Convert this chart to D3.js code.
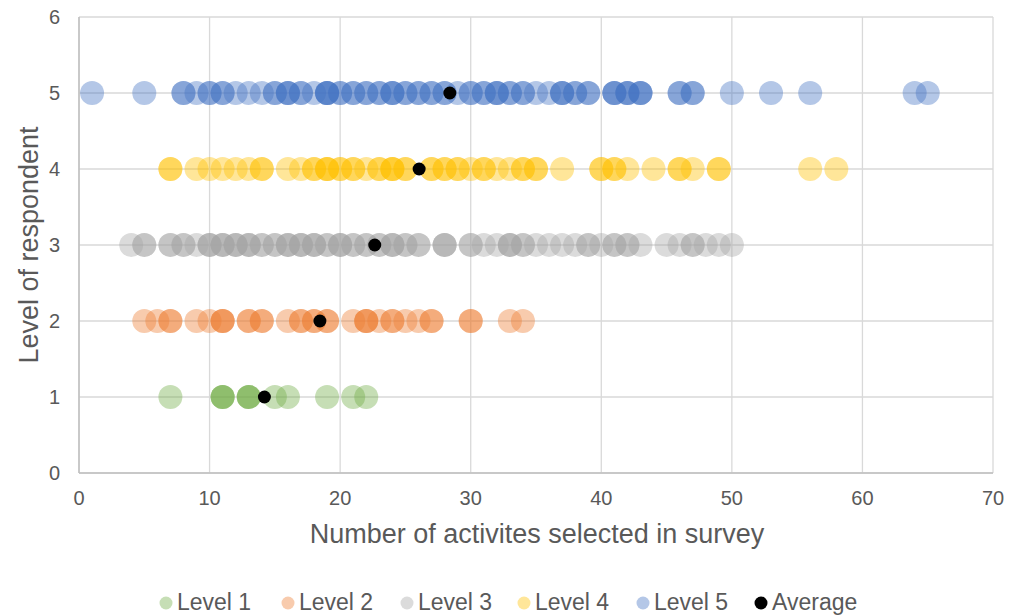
<!DOCTYPE html>
<html>
<head>
<meta charset="utf-8">
<script src="https://cdn.jsdelivr.net/npm/d3@7"></script>
<style>
  body { margin: 0; background: #fff; }
  text { font-family: "Liberation Sans", Arial, sans-serif; fill: #595959; }
</style>
</head>
<body>
<div class="scatter"></div>
<script>
// values, one entry per respondent
var level1 = [7, 11, 11, 11, 13, 13, 13, 15, 16, 19, 21, 22];
var level2 = [5, 6, 7, 7, 9, 10, 11, 11, 11, 13, 13, 14, 14, 16, 17, 17, 18, 18, 19, 19,
              21, 22, 22, 22, 23, 24, 24, 25, 26, 27, 27, 30, 30, 33, 34];
var level3 = [4, 5, 5, 7, 7, 8, 8, 9, 10, 10, 10, 11, 11, 11, 12, 12, 12, 13, 13, 13, 14,
              14, 15, 15, 16, 16, 16, 17, 17, 17, 18, 18, 18, 19, 19, 20, 20, 20, 21, 21,
              22, 22, 23, 23, 24, 24, 24, 25, 25, 26, 26, 28, 28, 28, 30, 30, 31, 32, 33,
              33, 33, 34, 34, 35, 36, 37, 38, 39, 39, 40, 41, 41, 42, 42, 43, 45, 46, 47,
              47, 48, 49, 50];
var level4 = [7, 7, 9, 10, 11, 12, 13, 14, 14, 16, 17, 18, 18, 19, 19, 19, 20, 20, 21, 21,
              22, 23, 23, 24, 24, 24, 25, 25, 27, 27, 28, 28, 29, 29, 30, 31, 31, 32, 33,
              34, 34, 35, 35, 37, 40, 40, 41, 41, 42, 44, 46, 46, 47, 49, 49, 56, 58];
var level5 = [1, 5, 8, 8, 9, 10, 10, 11, 11, 12, 13, 14, 15, 15, 16, 16, 16, 17, 17, 18,
              19, 19, 19, 19, 20, 20, 21, 21, 22, 22, 23, 23, 24, 24, 24, 25, 25, 26, 26,
              27, 27, 28, 28, 29, 30, 30, 31, 31, 32, 32, 32, 33, 33, 34, 34, 35, 36, 37,
              37, 37, 38, 38, 39, 39, 41, 41, 41, 42, 42, 42, 43, 43, 43, 46, 46, 47, 47,
              50, 53, 56, 64, 65];
var averages = [14.2, 18.45, 22.65, 26.05, 28.4];
var seriesNames = ["Level 1", "Level 2", "Level 3", "Level 4", "Level 5", "Average"];
var seriesColors = ["#70ad47", "#ed7d31", "#a5a5a5", "#ffc000", "#4472c4", "#000000"];
var xTicks = [0, 10, 20, 30, 40, 50, 60, 70];
var yTicks = [0, 1, 2, 3, 4, 5, 6];

var levels = [level1, level2, level3, level4, level5];

// set the dimensions and margins of the graph
var margin = {top: 17, right: 24, bottom: 143, left: 79},
    width = 1017 - margin.left - margin.right,
    height = 616 - margin.top - margin.bottom;

var svg = d3.select(".scatter")
  .append("svg")
  .attr("width", 1017)
  .attr("height", 616);

var plot = svg.append("g")
  .attr("transform", "translate(" + margin.left + "," + margin.top + ")");

var x = d3.scaleLinear().domain([0, 70]).range([0, width]);
var y = d3.scaleLinear().domain([0, 6]).range([height, 0]);

// gridlines
plot.selectAll("vgrid")
  .data(xTicks)
  .enter()
  .append("line")
  .attr("x1", function(d) { return x(d); })
  .attr("x2", function(d) { return x(d); })
  .attr("y1", 0)
  .attr("y2", height)
  .attr("stroke", "#d9d9d9")
  .attr("stroke-width", 1.3);

plot.selectAll("hgrid")
  .data(yTicks)
  .enter()
  .append("line")
  .attr("x1", 0)
  .attr("x2", width)
  .attr("y1", function(d) { return y(d); })
  .attr("y2", function(d) { return y(d); })
  .attr("stroke", "#d9d9d9")
  .attr("stroke-width", 1.3);

// axes lines
plot.append("line")
  .attr("x1", 0).attr("x2", 0).attr("y1", 0).attr("y2", height)
  .attr("stroke", "#bfbfbf").attr("stroke-width", 1.5);
plot.append("line")
  .attr("x1", 0).attr("x2", width).attr("y1", height).attr("y2", height)
  .attr("stroke", "#bfbfbf").attr("stroke-width", 1.5);

// tick labels
plot.selectAll("xlabel")
  .data(xTicks)
  .enter()
  .append("text")
  .attr("x", function(d) { return x(d); })
  .attr("y", height + 32)
  .attr("text-anchor", "middle")
  .attr("font-size", "20px")
  .text(function(d) { return d; });

plot.selectAll("ylabel")
  .data(yTicks)
  .enter()
  .append("text")
  .attr("x", -19)
  .attr("y", function(d) { return y(d) + 7; })
  .attr("text-anchor", "end")
  .attr("font-size", "20px")
  .text(function(d) { return d; });

// axis titles
svg.append("text")
  .attr("x", 537)
  .attr("y", 543)
  .attr("text-anchor", "middle")
  .attr("font-size", "27px")
  .text("Number of activites selected in survey");

svg.append("text")
  .attr("transform", "translate(38,245) rotate(-90)")
  .attr("text-anchor", "middle")
  .attr("font-size", "27px")
  .text("Level of respondent");

// points
levels.forEach(function(vals, i) {
  plot.selectAll(".pt" + i)
    .data(vals)
    .enter()
    .append("circle")
    .attr("cx", function(d) { return x(d); })
    .attr("cy", y(i + 1))
    .attr("r", 12)
    .style("fill", seriesColors[i])
    .style("fill-opacity", 0.4);
});

plot.selectAll(".avg")
  .data(averages)
  .enter()
  .append("circle")
  .attr("cx", function(d) { return x(d); })
  .attr("cy", function(d, i) { return y(i + 1); })
  .attr("r", 6.5)
  .style("fill", "#000");

// legend
var legendX = [166, 288, 407, 524, 643, 761];
var legend = svg.selectAll("legend")
  .data(seriesNames)
  .enter()
  .append("g")
  .attr("transform", function(d, i) { return "translate(" + legendX[i] + ",603)"; });

legend.append("circle")
  .attr("r", 6.5)
  .style("fill", function(d, i) { return seriesColors[i]; })
  .style("fill-opacity", function(d, i) { return i < 5 ? 0.4 : 1; });

legend.append("text")
  .attr("x", 11)
  .attr("y", 7)
  .attr("font-size", "23px")
  .text(function(d) { return d; });
</script>
</body>
</html>
